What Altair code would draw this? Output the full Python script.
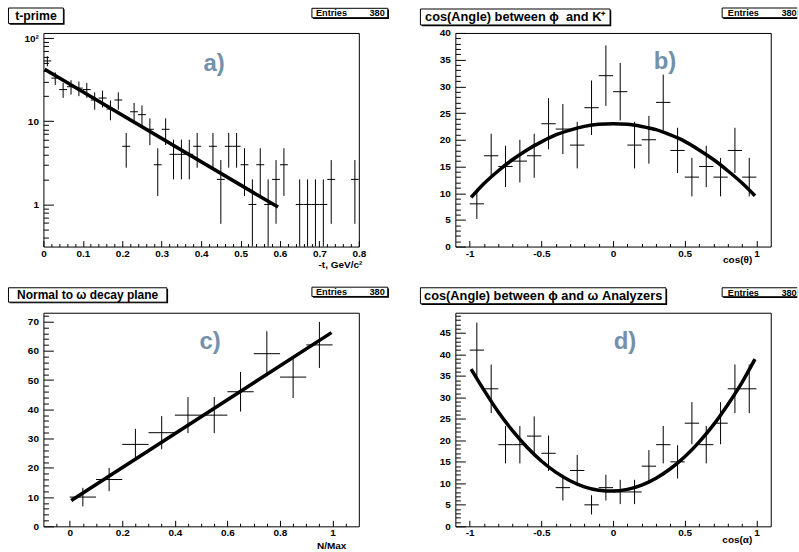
import altair as alt
import pandas as pd

FONT = "Liberation Sans"
TAG_COLOR = "#7390ad"

# ---------------- panel a : t-prime (log y) ----------------
a_centers = [0.01, 0.03, 0.05, 0.07, 0.09, 0.11, 0.13, 0.15, 0.17, 0.19,
             0.21, 0.23, 0.25, 0.27, 0.29, 0.31, 0.33, 0.35, 0.37, 0.39,
             0.41, 0.43, 0.45, 0.47, 0.49, 0.51, 0.53, 0.55, 0.57, 0.59,
             0.61, 0.63, 0.65, 0.67, 0.69, 0.71, 0.73, 0.75, 0.77, 0.79]
a_counts = [53, 33, 24, 26, 25, 24, 18, 19, 14, 18,
            5, 13, 12, 8, 3, 8, 4, 4, 4, 5,
            0, 5, 2, 5, 5, 3, 1, 3, 1, 2,
            3, 0, 1, 1, 1, 1, 2, 0, 0, 2]
a_fit_x = [0.003, 0.595]
a_fit_y = [42.0, 0.93]
a_x_labels = [0, 0.1, 0.2, 0.3, 0.4, 0.5, 0.6, 0.7, 0.8]
a_y_labels = [1, 10, 100]

# ---------------- panel b : cos(theta) ----------------
b_centers = [-0.95, -0.85, -0.75, -0.65, -0.55, -0.45, -0.35, -0.25, -0.15, -0.05,
             0.05, 0.15, 0.25, 0.35, 0.45, 0.55, 0.65, 0.75, 0.85, 0.95]
b_counts = [8, 17, 15, 16, 17, 23, 22, 19, 26, 32,
            29, 19, 20, 27, 18, 13, 15, 13, 18, 13]
b_fit_x = [-0.99, -0.9, -0.8, -0.7, -0.6, -0.5, -0.4, -0.3, -0.2, -0.1, 0.0,
           0.1, 0.2, 0.3, 0.4, 0.5, 0.6, 0.7, 0.8, 0.9, 0.99]
b_fit_y = [9.2, 11.8, 14.2, 16.3, 18.1, 19.6, 20.9, 21.8, 22.5, 22.9, 23.0,
           22.9, 22.5, 21.9, 20.9, 19.7, 18.1, 16.3, 14.2, 11.9, 9.5]
b_x_labels = [-1, -0.5, 0, 0.5, 1]
b_y_labels = [0, 5, 10, 15, 20, 25, 30, 35, 40]

# ---------------- panel c : normal to omega decay plane ----------------
c_centers = [0.05, 0.15, 0.25, 0.35, 0.45, 0.55, 0.65, 0.75, 0.85, 0.95]
c_counts = [10, 16, 28, 32, 38, 38, 46, 59, 51, 62]
c_fit_x = [0.006, 0.996]
c_fit_y = [8.8, 66.2]
c_x_labels = [0, 0.2, 0.4, 0.6, 0.8, 1]
c_y_labels = [0, 10, 20, 30, 40, 50, 60, 70]

# ---------------- panel d : cos(alpha) ----------------
d_centers = [-0.95, -0.85, -0.75, -0.65, -0.55, -0.45, -0.35, -0.25, -0.15, -0.05,
             0.05, 0.15, 0.25, 0.35, 0.45, 0.55, 0.65, 0.75, 0.85, 0.95]
d_counts = [41, 32, 19, 19, 21, 17, 9, 13, 5, 9,
            8, 8, 14, 19, 15, 24, 19, 24, 32, 32]
d_fit_x = [-0.99, -0.9, -0.8, -0.7, -0.6, -0.5, -0.4, -0.3, -0.2, -0.1, 0.0,
           0.1, 0.2, 0.3, 0.4, 0.5, 0.6, 0.7, 0.8, 0.9, 0.99]
d_fit_y = [36.6, 31.7, 26.6, 22.2, 18.4, 15.2, 12.6, 10.6, 9.2, 8.4, 8.2,
           8.6, 9.6, 11.2, 13.4, 16.2, 19.6, 23.6, 28.3, 33.5, 38.9]
d_x_labels = [-1, -0.5, 0, 0.5, 1]
d_y_labels = [0, 5, 10, 15, 20, 25, 30, 35, 40, 45]

ENTRIES = "380"

W, H = 316, 214
XT_MAJ, XT_MIN = 6, 3
YT_MAJ, YT_MIN = 10, 5
one = pd.DataFrame({"k": [0]})


def minor_ticks(start, stop, step, majors):
    n = int(round((stop - start) / step))
    out = []
    for i in range(n + 1):
        v = round(start + i * step, 6)
        if all(abs(v - m) > 1e-9 for m in majors):
            out.append(v)
    return out


def text_layer(txt, x, y, size, align="left", color="black", baseline="middle"):
    return alt.Chart(one).mark_text(
        text=txt, font=FONT, fontSize=size, fontWeight="bold", align=align,
        baseline=baseline, color=color
    ).encode(x=alt.value(x), y=alt.value(y))


def rect_layer(x1, x2, y1, y2, fill, stroke=False):
    kw = dict(fill=fill)
    if stroke:
        kw.update(stroke="black", strokeWidth=1)
    else:
        kw.update(strokeWidth=0)
    return alt.Chart(one).mark_rect(**kw).encode(
        x=alt.value(x1), x2=alt.value(x2), y=alt.value(y1), y2=alt.value(y2))


def rule_layer(x1, x2, y1, y2):
    return alt.Chart(one).mark_rule(color="black", strokeWidth=1).encode(
        x=alt.value(x1), x2=alt.value(x2), y=alt.value(y1), y2=alt.value(y2))


def boxed_title(txt, x1, x2, y1, y2, size):
    return [rect_layer(x1 + 1.2, x2 + 1.2, y1 + 1.2, y2 + 1.2, "black"),
            rect_layer(x1, x2, y1, y2, "white", stroke=True),
            text_layer(txt, (x1 + x2) / 2, (y1 + y2) / 2 + 0.5, size, align="center")]


def entries_box(x1, x2, y1, y2, open_right):
    layers = []
    if open_right:
        layers += [rect_layer(x1 + 1.2, x2, y1 + 1.2, y2 + 1.2, "black"),
                   rect_layer(x1, x2, y1, y2, "white"),
                   rule_layer(x1, x2, y1, y1), rule_layer(x1, x2, y2, y2),
                   rule_layer(x1, x1, y1, y2)]
    else:
        layers += [rect_layer(x1 + 1.2, x2 + 1.2, y1 + 1.2, y2 + 1.2, "black"),
                   rect_layer(x1, x2, y1, y2, "white", stroke=True)]
    ym = (y1 + y2) / 2 + 0.5
    layers += [text_layer("Entries", 273, ym, 9.2, align="left"),
               text_layer(ENTRIES, 342, ym, 9.2, align="right")]
    return layers


def panel(centers, counts, half, fit_x, fit_y, xdom, ydom, ylog,
          xmaj, xmin, ymaj, ymin, ylabel_expr, xtitle, xtitle_x, xtitle_y,
          title_txt, title_size, tbox, ebox, open_right, tag, tag_x, tag_y, interp):
    hist = pd.DataFrame({"x": centers, "n": counts})
    hist["lo"] = hist["x"] - half
    hist["hi"] = hist["x"] + half
    fit = pd.DataFrame({"x": fit_x, "y": fit_y})

    xs = alt.Scale(domain=xdom, nice=False, zero=False)
    if ylog:
        ys = alt.Scale(type="log", domain=ydom, nice=False)
    else:
        ys = alt.Scale(domain=ydom, nice=False, zero=False)

    lab = dict(labelFont=FONT, labelFontSize=10, labelFontWeight="bold",
               labelColor="black", labelFlush=False, labelOverlap=False,
               tickColor="black", tickWidth=1, domain=False, grid=False)

    ax_x = alt.Axis(orient="bottom", values=xmaj, tickSize=XT_MAJ, offset=-XT_MAJ,
                    labelPadding=1.5, labelExpr="'' + datum.value",
                    title=xtitle, titleFont=FONT, titleFontSize=10,
                    titleFontWeight="bold", titleColor="black",
                    titleX=xtitle_x, titleY=xtitle_y, titleAlign="right",
                    titleBaseline="alphabetic", **lab)
    ax_y = alt.Axis(orient="left", values=ymaj, tickSize=YT_MAJ, offset=-YT_MAJ,
                    labelPadding=5, labelExpr=ylabel_expr, title="", **lab)
    ax_xm = alt.Axis(orient="bottom", values=xmin, tickSize=XT_MIN, offset=-XT_MIN,
                     labels=False, title="", tickColor="black", tickWidth=1,
                     domain=False, grid=False)
    ax_ym = alt.Axis(orient="left", values=ymin, tickSize=YT_MIN, offset=-YT_MIN,
                     labels=False, title="", tickColor="black", tickWidth=1,
                     domain=False, grid=False)

    base = alt.Chart(hist).transform_filter("datum.n > 0").transform_calculate(
        elo="max(datum.n - sqrt(datum.n), 0.01)",
        ehi="datum.n + sqrt(datum.n)")
    hbar = base.mark_rule(color="black", strokeWidth=1, clip=True).encode(
        x=alt.X("lo:Q", scale=xs, axis=ax_x), x2="hi:Q",
        y=alt.Y("n:Q", scale=ys, axis=ax_y))
    vbar = base.mark_rule(color="black", strokeWidth=1, clip=True).encode(
        x=alt.X("x:Q", scale=xs, axis=None),
        y=alt.Y("elo:Q", scale=ys, axis=None), y2="ehi:Q")
    curve = alt.Chart(fit).mark_line(color="black", strokeWidth=3.5, clip=True,
                                     interpolate=interp).encode(
        x=alt.X("x:Q", scale=xs, axis=None),
        y=alt.Y("y:Q", scale=ys, axis=None))
    minor = alt.Chart(fit).mark_point(opacity=0).encode(
        x=alt.X("x:Q", scale=xs, axis=ax_xm),
        y=alt.Y("y:Q", scale=ys, axis=ax_ym))

    layers = [minor, hbar, vbar, curve]
    layers += boxed_title(title_txt, *tbox, title_size)
    layers += entries_box(*ebox, open_right)
    layers.append(text_layer(tag, tag_x, tag_y, 24, align="center",
                             color=TAG_COLOR, baseline="alphabetic"))
    return alt.layer(*layers).resolve_axis(x="independent", y="independent").properties(
        width=W, height=H)


a_ymin = [0.4, 0.5, 0.6, 0.7, 0.8, 0.9, 2, 3, 4, 5, 6, 7, 8, 9,
          20, 30, 40, 50, 60, 70, 80, 90]

pa = panel(a_centers, a_counts, 0.01, a_fit_x, a_fit_y, [0, 0.8], [0.312, 115], True,
           a_x_labels, minor_ticks(0, 0.8, 0.02, a_x_labels),
           a_y_labels, a_ymin,
           "datum.value == 100 ? '10²' : '' + datum.value",
           "-t, GeV/c²", 319, 26.5,
           "t-prime", 12.3, (-35, 20, -25, -9.5), (269, 345, -24.7, -15.3), False,
           "a)", 171, 38, "linear")

pb = panel(b_centers, b_counts, 0.05, b_fit_x, b_fit_y, [-1.1, 1.1], [0, 40], False,
           b_x_labels, minor_ticks(-1, 1, 0.1, b_x_labels),
           b_y_labels, minor_ticks(0, 40, 1, b_y_labels),
           "'' + datum.value",
           "cos(θ)", 297, 22,
           "cos(Angle) between \u03d5\u00a0 and K⁺", 12.8, (-35, 155, -24, -8),
           (267.3, 342.5, -25, -15.3), True,
           "b)", 210, 36, "monotone")

pc = panel(c_centers, c_counts, 0.05, c_fit_x, c_fit_y, [-0.1, 1.1], [0, 73], False,
           c_x_labels, minor_ticks(-0.05, 1.05, 0.05, c_x_labels),
           c_y_labels, minor_ticks(0, 72, 2, c_y_labels),
           "'' + datum.value",
           "N/Max", 303, 28.5,
           "Normal to ω decay plane", 12, (-35, 123.7, -25, -10.6),
           (269, 345, -25.6, -16.3), False,
           "c)", 167, 36, "linear")

pd_ = panel(d_centers, d_counts, 0.05, d_fit_x, d_fit_y, [-1.1, 1.1], [0, 49.7], False,
            d_x_labels, minor_ticks(-1, 1, 0.1, d_x_labels),
            d_y_labels, minor_ticks(0, 49, 1, d_y_labels),
            "'' + datum.value",
            "cos(α)", 297, 22,
            "cos(Angle) between \u03d5 and ω Analyzers", 12.8, (-35, 211, -25, -9),
            (267.3, 342.5, -25, -16), True,
            "d)", 170, 36, "monotone")

chart = alt.concat(pa, pb, pc, pd_, columns=2).properties(
    spacing={"row": 66.3, "column": 96.7},
    bounds="flush",
    padding={"left": 7.5, "top": 6.5, "right": 0, "bottom": 2},
    background="white",
).configure_view(stroke="black", strokeWidth=1)

chart.save("out.html", embed_options={"renderer": "svg", "actions": False})
